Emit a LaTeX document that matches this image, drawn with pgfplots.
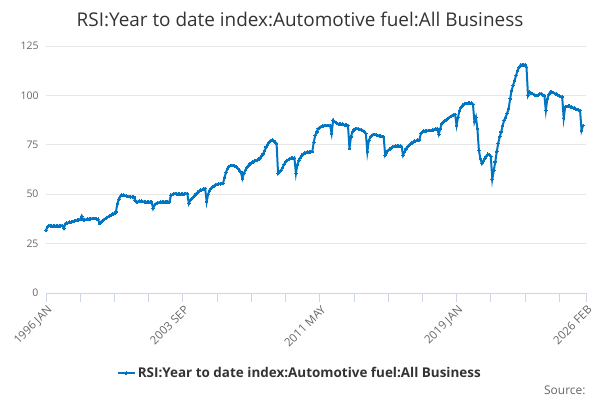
\documentclass[border=0pt]{standalone}
\usepackage{fontspec}
\setmainfont{Open Sans}
\usepackage{pgfplots}
\usepackage{pgfplotstable}
\pgfplotsset{compat=1.18}

\definecolor{onsblue}{RGB}{0,117,194}
\definecolor{gridc}{RGB}{230,230,230}
\definecolor{axisc}{RGB}{204,214,235}
\definecolor{labc}{RGB}{102,102,102}
\definecolor{titc}{RGB}{51,51,51}

% monthly values, 1996 JAN .. 2026 FEB (one line per year)
\pgfplotstableread[header=false,row sep=\\]{
31.8\\ 33.5\\ 34.2\\ 34.0\\ 34.0\\ 34.0\\ 34.0\\ 34.0\\ 34.0\\ 34.0\\ 34.0\\ 34.2\\
32.7\\ 35.0\\ 35.3\\ 35.6\\ 35.8\\ 36.0\\ 36.2\\ 36.4\\ 36.6\\ 36.8\\ 37.0\\ 37.2\\
38.9\\ 37.0\\ 37.0\\ 37.2\\ 37.4\\ 37.5\\ 37.6\\ 37.7\\ 37.8\\ 37.7\\ 37.5\\ 37.3\\
35.2\\ 36.0\\ 36.6\\ 37.2\\ 37.7\\ 38.2\\ 38.7\\ 39.2\\ 39.6\\ 40.0\\ 40.3\\ 41.0\\
45.3\\ 47.5\\ 49.0\\ 49.5\\ 49.5\\ 49.3\\ 49.1\\ 48.9\\ 48.8\\ 48.7\\ 48.6\\ 48.6\\
47.0\\ 46.0\\ 46.3\\ 46.5\\ 46.5\\ 46.3\\ 46.2\\ 46.1\\ 46.1\\ 46.1\\ 46.1\\ 46.1\\
42.8\\ 44.5\\ 45.3\\ 45.6\\ 45.8\\ 46.0\\ 46.1\\ 46.1\\ 46.1\\ 46.1\\ 46.1\\ 46.1\\
49.5\\ 49.8\\ 50.3\\ 50.3\\ 50.2\\ 50.1\\ 50.0\\ 50.0\\ 50.1\\ 50.2\\ 50.3\\ 50.3\\
45.3\\ 47.0\\ 47.8\\ 48.5\\ 49.5\\ 50.3\\ 51.0\\ 51.5\\ 52.0\\ 52.3\\ 52.6\\ 52.9\\
46.1\\ 50.0\\ 52.0\\ 53.0\\ 53.8\\ 54.3\\ 54.7\\ 55.0\\ 55.2\\ 55.3\\ 55.4\\ 55.4\\
58.5\\ 61.0\\ 63.0\\ 64.0\\ 64.5\\ 64.6\\ 64.5\\ 64.2\\ 63.8\\ 63.0\\ 62.2\\ 61.3\\
57.9\\ 60.5\\ 62.1\\ 63.5\\ 64.5\\ 65.3\\ 65.8\\ 66.3\\ 66.7\\ 67.0\\ 67.2\\ 67.5\\
68.5\\ 69.5\\ 70.5\\ 72.0\\ 73.9\\ 75.3\\ 76.4\\ 77.0\\ 77.3\\ 77.0\\ 76.3\\ 75.6\\
60.5\\ 61.3\\ 62.1\\ 63.5\\ 65.0\\ 66.3\\ 67.0\\ 67.5\\ 68.0\\ 68.2\\ 68.3\\ 68.3\\
60.5\\ 65.0\\ 67.2\\ 68.5\\ 69.7\\ 70.3\\ 70.8\\ 71.2\\ 71.4\\ 71.4\\ 71.5\\ 71.6\\
76.4\\ 79.8\\ 81.5\\ 83.2\\ 83.8\\ 84.3\\ 84.5\\ 84.8\\ 84.8\\ 84.8\\ 84.8\\ 84.8\\
80.7\\ 87.4\\ 86.8\\ 86.3\\ 85.7\\ 85.5\\ 85.4\\ 85.4\\ 85.2\\ 85.0\\ 84.9\\ 84.8\\
73.1\\ 79.0\\ 81.5\\ 82.5\\ 83.2\\ 83.2\\ 83.0\\ 82.8\\ 82.5\\ 82.2\\ 81.5\\ 80.7\\
71.4\\ 77.0\\ 79.0\\ 79.8\\ 80.3\\ 80.3\\ 80.1\\ 79.8\\ 79.6\\ 79.4\\ 79.2\\ 79.0\\
69.7\\ 71.0\\ 72.2\\ 72.8\\ 73.4\\ 73.9\\ 74.2\\ 74.4\\ 74.4\\ 74.4\\ 74.3\\ 74.2\\
69.7\\ 71.4\\ 73.0\\ 74.0\\ 74.7\\ 75.5\\ 76.0\\ 76.4\\ 76.8\\ 77.1\\ 77.3\\ 77.5\\
80.7\\ 81.5\\ 82.0\\ 82.0\\ 82.1\\ 82.2\\ 82.3\\ 82.3\\ 82.5\\ 82.8\\ 83.0\\ 83.2\\
80.3\\ 83.0\\ 85.7\\ 86.5\\ 87.2\\ 87.7\\ 88.2\\ 88.8\\ 89.4\\ 89.8\\ 90.2\\ 90.4\\
84.8\\ 89.0\\ 92.4\\ 94.0\\ 95.0\\ 95.5\\ 95.8\\ 96.0\\ 96.1\\ 96.1\\ 96.1\\ 95.5\\
86.6\\ 89.0\\ 83.2\\ 72.2\\ 68.0\\ 65.5\\ 66.8\\ 68.2\\ 69.3\\ 70.2\\ 70.0\\ 69.2\\
57.6\\ 62.0\\ 66.3\\ 71.4\\ 75.8\\ 79.0\\ 81.5\\ 84.8\\ 87.4\\ 89.0\\ 91.0\\ 93.3\\
98.3\\ 102.5\\ 105.1\\ 107.6\\ 110.1\\ 112.6\\ 114.3\\ 115.3\\ 115.5\\ 115.5\\ 115.5\\ 114.3\\
100.0\\ 101.7\\ 101.3\\ 100.9\\ 100.5\\ 100.0\\ 100.0\\ 100.3\\ 100.9\\ 100.7\\ 100.3\\ 100.0\\
92.4\\ 98.3\\ 100.5\\ 101.7\\ 101.7\\ 101.4\\ 101.0\\ 100.6\\ 100.2\\ 99.8\\ 99.5\\ 99.2\\
88.5\\ 94.1\\ 94.4\\ 94.6\\ 94.5\\ 94.2\\ 93.9\\ 93.6\\ 93.2\\ 92.8\\ 92.5\\ 92.4\\
82.3\\ 84.8\\
}\rsi

\begin{document}
\begin{tikzpicture}
\useasboundingbox (0,0) rectangle (600bp,400bp);
\node[text=titc, font=\fontsize{19}{23}\selectfont] at (300bp,381bp)
  {RSI:Year to date index:Automotive fuel:All Business};
\node[text=labc, font=\fontsize{12}{14}\selectfont, anchor=east] at (589bp,10bp) {Source:};
\begin{axis}[
  at={(46bp,107bp)}, anchor=south west,
  width=540bp, height=247bp, scale only axis,
  xmin=0, xmax=363,
  ymin=0, ymax=125,
  ytick={0,25,50,75,100,125},
  xtick={0,92,184,276,363},
  xticklabels={1996 JAN,2003 SEP,2011 MAY,2019 JAN,2026 FEB},
  minor xtick={23,46,69,115,138,161,207,230,253,299,322,345},
  axis lines=left,
  x axis line style={-, draw=axisc, line width=0.8bp},
  y axis line style={draw=none},
  ytick style={draw=none},
  xtick style={draw=axisc, line width=0.8bp},
  minor x tick style={draw=axisc, line width=0.8bp},
  tick align=outside,
  major tick length=9bp,
  minor tick length=9bp,
  ymajorgrids,
  grid style={draw=gridc, line width=0.8bp},
  /pgf/number format/assume math mode=true,
  yticklabel style={text=labc, font=\fontsize{10.5}{12}\selectfont, xshift=5bp},
  xticklabel style={text=labc, font=\fontsize{11.5}{14}\selectfont, rotate=45, anchor=north east, xshift=2bp, yshift=1bp},
  legend style={at={(0.47,-0.325)}, anchor=center, draw=none, fill=none,
    font=\fontsize{13.5}{16}\selectfont\bfseries, text=titc},
  legend image post style={line width=2bp},
  clip=false,
]
\addplot[color=onsblue, line width=2bp, mark=*, mark size=1.3bp,
  mark options={fill=onsblue, draw=onsblue, line width=0pt}]
  table[x expr=\coordindex, y index=0] {\rsi};
\addlegendentry{RSI:Year to date index:Automotive fuel:All Business}
\end{axis}
\end{tikzpicture}
\end{document}
